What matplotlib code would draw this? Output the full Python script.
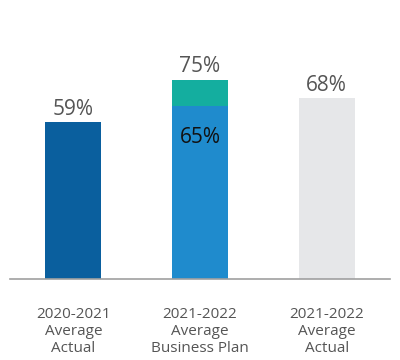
import matplotlib
matplotlib.use("Agg")
import matplotlib.pyplot as plt

categories = ["2020-2021\nAverage\nActual", "2021-2022\nAverage\nBusiness Plan", "2021-2022\nAverage\nActual"]
base_values = [59, 65, 68]
extra_values = [0, 10, 0]
base_colors = ["#0a5f9e", "#1f8bcd", "#e6e7e9"]
extra_color = "#14ae9f"
total_labels = ["59%", "75%", "68%"]
inner_label = "65%"

plt.rcParams['font.family'] = ['Open Sans', 'DejaVu Sans']
fig = plt.figure(figsize=(4, 3.6), dpi=100)
ax = fig.add_axes([10/400, (360-279)/360, 380/400, 266/360])

x = list(range(len(categories)))
ax.bar(x, base_values, width=0.44, color=base_colors)
ax.bar(x, extra_values, bottom=base_values, width=0.44, color=extra_color)

for xi, b, e, lab in zip(x, base_values, extra_values, total_labels):
    ax.text(xi, b + e + 0.9, lab, ha="center", va="bottom", fontsize=15, color="#555555")
ax.text(x[1], base_values[1] - 8, inner_label, ha="center", va="top", fontsize=15, color="#111111")

ax.set_xlim(-0.5, 2.5)
ax.set_ylim(0, 100)
for s in ["top", "right", "left"]:
    ax.spines[s].set_visible(False)
ax.spines["bottom"].set_color("#a0a0a0")
ax.spines["bottom"].set_linewidth(1.2)
ax.set_yticks([])
ax.set_xticks(x)
ax.set_xticklabels(categories, fontsize=11, color="#555555", linespacing=1.2)
ax.tick_params(axis="x", length=0, pad=20)

fig.savefig("out.png", dpi=100)
